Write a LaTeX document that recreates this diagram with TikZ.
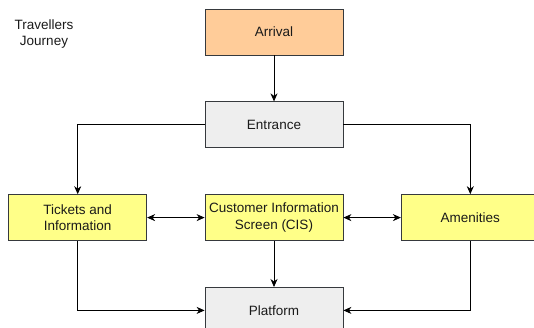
\documentclass[tikz,border=0pt]{standalone}
\usepackage{fontspec}
\setmainfont{Liberation Sans}
\usepackage{tikz}
\usetikzlibrary{arrows.meta,positioning}
\definecolor{arrivalfill}{HTML}{FFCC99}
\definecolor{greyfill}{HTML}{EEEEEE}
\definecolor{notefill}{HTML}{FFFF88}
\definecolor{boxline}{HTML}{36393D}
\definecolor{labeltext}{HTML}{1A1A1A}

\begin{document}
\begin{tikzpicture}[x=1pt,y=-1pt,
  font=\fontsize{13.5}{16.5}\selectfont,
  node distance=46pt and 57.5pt,
  stage/.style={draw=boxline,line width=0.8pt,minimum width=138pt,minimum height=46pt,
    inner sep=1pt,align=center,text=labeltext},
  flow/.style={line width=0.8pt,-{Stealth[length=8pt,width=7pt,inset=2.5pt]}},
  both/.style={line width=0.8pt,{Stealth[length=8pt,width=7pt,inset=2.5pt]}-{Stealth[length=8pt,width=7pt,inset=2.5pt]}}]
\useasboundingbox (0,0) rectangle (534,327);

\node[align=center,text=labeltext] (title) at (44,34) {Travellers\\Journey};

\node[stage,fill=arrivalfill] (arrival) at (274,32) {Arrival};
\node[stage,fill=greyfill,below=of arrival] (entrance) {Entrance};
\node[stage,fill=notefill,below=of entrance] (cis) {Customer Information\\Screen (CIS)};
\node[stage,fill=notefill,left=of cis] (tickets) {Tickets and\\Information};
\node[stage,fill=notefill,right=of cis] (amenities) {Amenities};
\node[stage,fill=greyfill,below=of cis] (platform) {Platform};

\draw[flow] (arrival) -- (entrance);
\draw[flow] (entrance.west) -| (tickets.north);
\draw[flow] (entrance.east) -| (amenities.north);
\draw[both] (tickets) -- (cis);
\draw[both] (cis) -- (amenities);
\draw[flow] (cis) -- (platform);
\draw[flow] (tickets.south) |- (platform.west);
\draw[flow] (amenities.south) |- (platform.east);
\end{tikzpicture}
\end{document}
